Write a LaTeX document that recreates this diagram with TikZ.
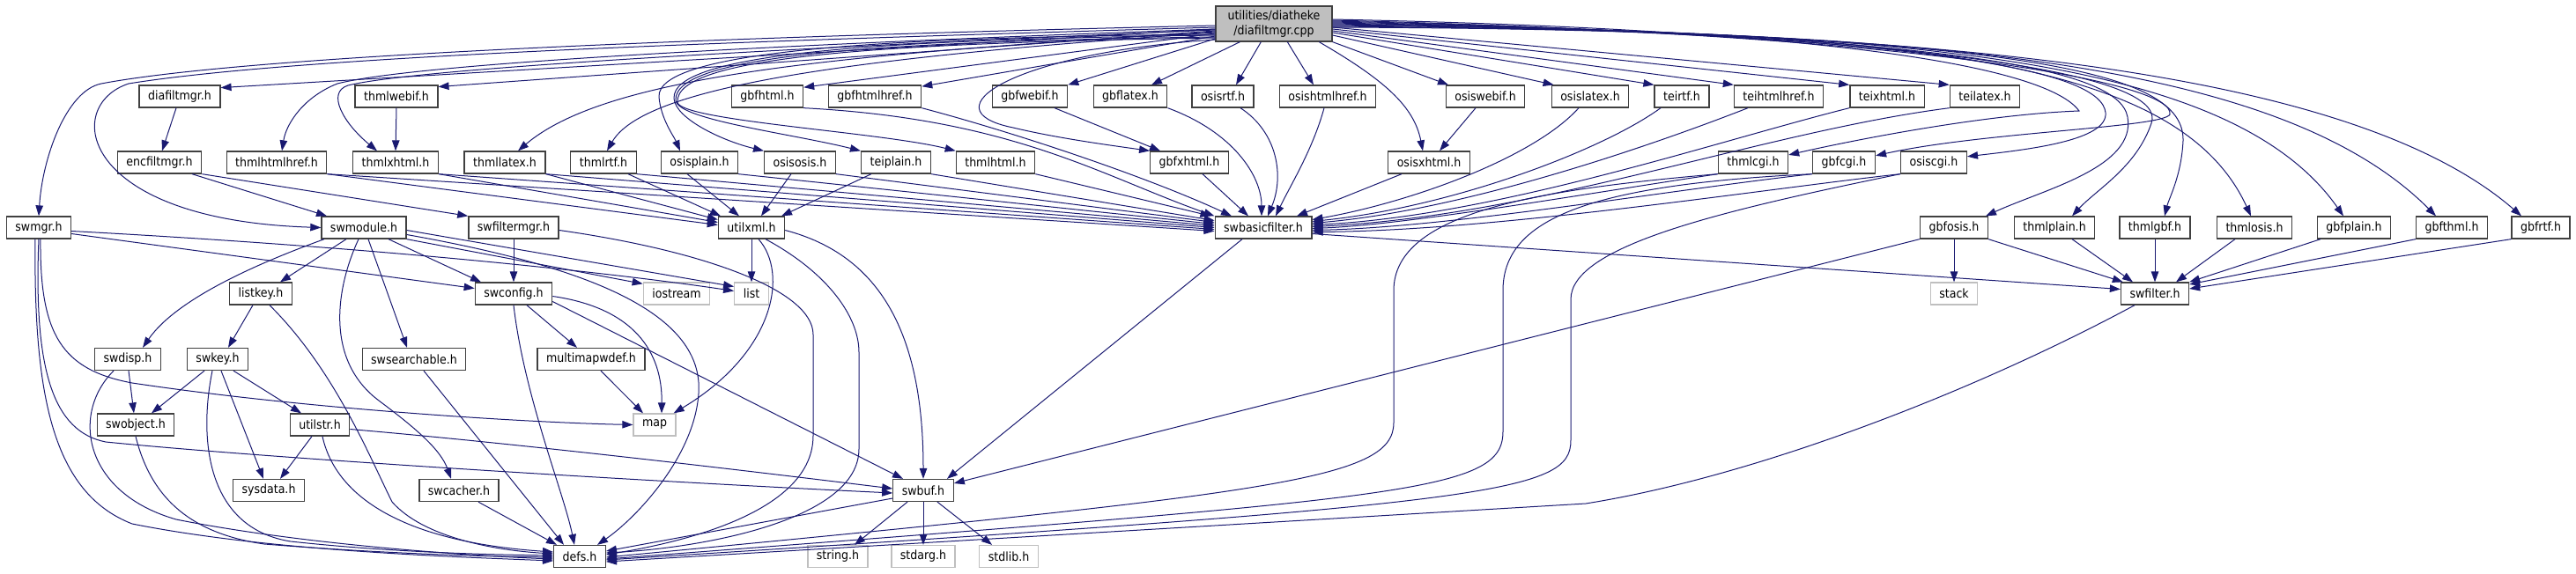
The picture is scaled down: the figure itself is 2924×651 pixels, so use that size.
\documentclass[tikz,border=0pt]{standalone}
\usepackage{fontspec}
\newfontfamily\dxfont{DejaVu Sans}[FakeStretch=0.9]
\usetikzlibrary{arrows.meta}
\definecolor{edgeblue}{RGB}{25,25,112}
\definecolor{grey25}{RGB}{64,64,64}
\definecolor{grey75}{RGB}{191,191,191}
\tikzset{box/.style={rectangle, draw=grey25, fill=white, line width=1.3pt, minimum height=25pt, inner xsep=10pt, inner ysep=0pt, font=\fontsize{14}{17}\dxfont},
sysbox/.style={box, draw=grey75},
root/.style={box, fill=grey75, align=center, minimum height=40pt, minimum width=132pt, inner ysep=1pt},
arrowout/.style={-{Triangle[length=12pt,width=8.5pt]}, draw=edgeblue, line width=1pt}}
\begin{document}
\begin{tikzpicture}[x=1pt, y=1pt]
\useasboundingbox (0,0) rectangle (2924,-651);

\node(main) at (1446,-27) [root] {utilities/diatheke\\/diafiltmgr.cpp};

\node(diafmgr) at (204,-109.5) [box] {diafiltmgr.h};
\node(thmlwebif) at (450,-109.5) [box] {thmlwebif.h};
\node(gbfhtml) at (871,-109.5) [box] {gbfhtml.h};
\node(gbfhtmlhref) at (993,-109.5) [box] {gbfhtmlhref.h};
\node(gbfwebif) at (1169,-109.5) [box] {gbfwebif.h};
\node(gbflatex) at (1283,-109.5) [box] {gbflatex.h};
\node(osisrtf) at (1388,-109.5) [box] {osisrtf.h};
\node(osishtmlhref) at (1507,-109.5) [box] {osishtmlhref.h};
\node(osiswebif) at (1686,-109.5) [box] {osiswebif.h};
\node(osislatex) at (1805,-109.5) [box] {osislatex.h};
\node(teirtf) at (1909,-109.5) [box] {teirtf.h};
\node(teihtmlhref) at (2019,-109.5) [box] {teihtmlhref.h};
\node(teixhtml) at (2142,-109.5) [box] {teixhtml.h};
\node(teilatex) at (2253,-109.5) [box] {teilatex.h};

\node(encfmgr) at (181,-184.5) [box] {encfiltmgr.h};
\node(thmlhtmlhref) at (314,-184.5) [box] {thmlhtmlhref.h};
\node(thmlxhtml) at (449,-184.5) [box] {thmlxhtml.h};
\node(thmllatex) at (573,-184.5) [box] {thmllatex.h};
\node(thmlrtf) at (685,-184.5) [box] {thmlrtf.h};
\node(osisplain) at (794,-184.5) [box] {osisplain.h};
\node(osisosis) at (908,-184.5) [box] {osisosis.h};
\node(teiplain) at (1017,-184.5) [box] {teiplain.h};
\node(thmlhtml) at (1130,-184.5) [box] {thmlhtml.h};
\node(gbfxhtml) at (1350,-184.5) [box] {gbfxhtml.h};
\node(osisxhtml) at (1622,-184.5) [box] {osisxhtml.h};
\node(thmlcgi) at (1990,-184.5) [box] {thmlcgi.h};
\node(gbfcgi) at (2093,-184.5) [box] {gbfcgi.h};
\node(osiscgi) at (2195,-184.5) [box] {osiscgi.h};

\node(swmgr) at (44,-258.5) [box] {swmgr.h};
\node(swmodule) at (413,-258.5) [box] {swmodule.h};
\node(swfmgr) at (583,-258.5) [box] {swfiltermgr.h};
\node(utilxml) at (853,-258.5) [box] {utilxml.h};
\node(swbasic) at (1434,-258.5) [box] {swbasicfilter.h};
\node(gbfosis) at (2218,-258.5) [box] {gbfosis.h};
\node(thmlplain) at (2332,-258.5) [box] {thmlplain.h};
\node(thmlgbf) at (2446,-258.5) [box] {thmlgbf.h};
\node(thmlosis) at (2559,-258.5) [box] {thmlosis.h};
\node(gbfplain) at (2672,-258.5) [box] {gbfplain.h};
\node(gbfthml) at (2783,-258.5) [box] {gbfthml.h};
\node(gbfrtf) at (2884,-258.5) [box] {gbfrtf.h};

\node(listkey) at (296,-333.5) [box] {listkey.h};
\node(swconfig) at (583,-333.5) [box] {swconfig.h};
\node(iostream) at (768,-333.5) [sysbox] {iostream};
\node(list) at (853,-333.5) [sysbox] {list};
\node(stack) at (2218,-333.5) [sysbox] {stack};
\node(swfilter) at (2446,-333.5) [box] {swfilter.h};

\node(swdisp) at (145,-408) [box] {swdisp.h};
\node(swkey) at (247,-408) [box] {swkey.h};
\node(swsearch) at (470,-408) [box] {swsearchable.h};
\node(multimap) at (671,-408) [box] {multimapwdef.h};

\node(swobject) at (154,-482.5) [box] {swobject.h};
\node(utilstr) at (363,-482.5) [box] {utilstr.h};
\node(map) at (743,-482.5) [sysbox] {map};

\node(sysdata) at (305,-557) [box] {sysdata.h};
\node(swcacher) at (521,-557) [box] {swcacher.h};
\node(swbuf) at (1048,-557) [box] {swbuf.h};

\node(defs) at (658,-632) [box] {defs.h};
\node(string) at (951,-632) [sysbox] {string.h};
\node(stdarg) at (1048,-632) [sysbox] {stdarg.h};
\node(stdlib) at (1145,-632) [sysbox] {stdlib.h};

% main file, left side
\draw[arrowout] ([yshift=-2pt]main.west) .. controls (900,-40) and (300,-60) .. (115,-95) .. controls (75,-103) and (48,-180) .. (swmgr.north);
\draw[arrowout] ([yshift=-4pt]main.west) .. controls (900,-45) and (350,-62) .. (146,-95) .. controls (70,-120) and (90,-250) .. (swmodule.west);
\draw[arrowout] ([yshift=-6pt]main.west) -- (diafmgr.12);
\draw[arrowout] ([yshift=-6pt]main.west) .. controls (950,-48) and (480,-70) .. (383,-95) .. controls (345,-110) and (325,-140) .. ([xshift=6pt]thmlhtmlhref.north);
\draw[arrowout] ([yshift=-7pt]main.west) .. controls (950,-52) and (480,-76) .. (395,-97) .. controls (370,-105) and (390,-140) .. ([xshift=-21pt]thmlxhtml.north);
\draw[arrowout] ([yshift=-8pt]main.west) -- (thmlwebif.13);
\draw[arrowout] ([yshift=-9pt]main.west) .. controls (950,-62) and (690,-85) .. ([xshift=15pt]thmllatex.north);
\draw[arrowout] ([yshift=-10pt]main.west) .. controls (950,-66) and (730,-100) .. ([xshift=4pt]thmlrtf.north);
\draw[arrowout] ([yshift=-11pt]main.west) -- (gbfhtml.14);
\draw[arrowout] ([yshift=-12pt]main.west) .. controls (1000,-42) and (745,-58) .. (748,-110) .. controls (750,-135) and (765,-155) .. ([xshift=-22pt]osisplain.north);
\draw[arrowout] ([yshift=-13pt]main.west) .. controls (1000,-45) and (762,-60) .. (765,-112) .. controls (767,-135) and (820,-160) .. (osisosis.north west);
\draw[arrowout] ([yshift=-14pt]main.west) -- (gbfhtmlhref.12);
\draw[arrowout] ([yshift=-15pt]main.west) .. controls (1000,-47) and (764,-62) .. (767,-114) .. controls (769,-136) and (900,-152) .. (teiplain.north west);
\draw[arrowout] ([yshift=-16pt]main.west) .. controls (1000,-49) and (766,-64) .. (769,-116) .. controls (771,-137) and (1000,-150) .. (thmlhtml.north west);
\draw[arrowout] ([yshift=-17pt]main.west) -- (gbfwebif.north east);
\draw[arrowout] ([yshift=-18pt]main.west) .. controls (1150,-60) and (1050,-125) .. (1150,-145) .. controls (1200,-157) and (1260,-165) .. (gbfxhtml.north west);

% main file, bottom and right side
\draw[arrowout] ([xshift=28pt]main.south west) -- ([xshift=24pt]gbflatex.north);
\draw[arrowout] ([xshift=52pt]main.south west) -- ([xshift=15pt]osisrtf.north);
\draw[arrowout] ([xshift=82pt]main.south west) -- ([xshift=-16pt]osishtmlhref.north);
\draw[arrowout] ([xshift=118pt]main.south west) .. controls (1570,-90) and (1605,-120) .. ([xshift=-7pt]osisxhtml.north);
\draw[arrowout] (main.south east) -- ([xshift=-42pt]osiswebif.north);
\draw[arrowout] ([yshift=-13pt]main.east) -- ([xshift=3pt]osislatex.north west);
\draw[arrowout] ([yshift=-10pt]main.east) -- (teirtf.north west);
\draw[arrowout] ([yshift=-8pt]main.east) -- (teihtmlhref.north west);
\draw[arrowout] ([yshift=-6pt]main.east) -- (teixhtml.north west);
\draw[arrowout] ([yshift=-4pt]main.east) -- (teilatex.north west);
\draw[arrowout] ([yshift=5pt]main.east) .. controls (2150,-35) and (2330,-85) .. (2360,-126) .. controls (2250,-130) and (2100,-160) .. (thmlcgi.12);
\draw[arrowout] ([yshift=4pt]main.east) .. controls (2200,-40) and (2470,-95) .. (2463,-130) .. controls (2455,-145) and (2250,-150) .. (gbfcgi.12);
\draw[arrowout] ([yshift=3pt]main.east) .. controls (2200,-40) and (2385,-80) .. (2390,-128) .. controls (2393,-160) and (2300,-170) .. (osiscgi.10);
\draw[arrowout] ([yshift=2pt]main.east) .. controls (2200,-40) and (2405,-75) .. (2415,-133) .. controls (2425,-190) and (2320,-215) .. ([xshift=36pt]gbfosis.north);
\draw[arrowout] ([yshift=1pt]main.east) .. controls (2250,-40) and (2460,-90) .. (2442,-140) .. controls (2425,-190) and (2380,-215) .. ([xshift=20pt]thmlplain.north);
\draw[arrowout] (main.east) .. controls (2300,-40) and (2480,-80) .. (2478,-160) .. controls (2476,-200) and (2462,-225) .. ([xshift=11pt]thmlgbf.north);
\draw[arrowout] ([yshift=-1pt]main.east) .. controls (2150,-35) and (2470,-60) .. ([xshift=-4pt]thmlosis.north);
\draw[arrowout] ([yshift=-2pt]main.east) .. controls (2150,-35) and (2530,-60) .. ([xshift=-12pt]gbfplain.north);
\draw[arrowout] ([yshift=-3pt]main.east) .. controls (2150,-35) and (2580,-60) .. ([xshift=-18pt]gbfthml.north);
\draw[arrowout] ([yshift=-4pt]main.east) .. controls (2150,-33) and (2660,-70) .. ([xshift=-22pt]gbfrtf.north);

% first row
\draw[arrowout] ([xshift=-4pt]diafmgr.south) -- ([xshift=3pt]encfmgr.north);
\draw[arrowout] (thmlwebif.south) -- (thmlxhtml.north);
\draw[arrowout] ([xshift=28pt]gbfwebif.south) -- ([xshift=-33pt]gbfxhtml.north);
\draw[arrowout] ([xshift=-11pt]osiswebif.south) -- ([xshift=12pt]osisxhtml.north);
\draw[arrowout] (gbfhtml.south east) .. controls (1150,-135) and (1250,-200) .. (swbasic.north west);
\draw[arrowout] (gbfhtmlhref.south east) .. controls (1150,-150) and (1300,-200) .. ([xshift=-36pt]swbasic.north);
\draw[arrowout] (gbflatex.south east) .. controls (1400,-150) and (1432,-200) .. ([xshift=-2pt]swbasic.north);
\draw[arrowout] ([xshift=20pt]osisrtf.south) .. controls (1450,-150) and (1458,-200) .. ([xshift=5pt]swbasic.north);
\draw[arrowout] ([xshift=-4pt]osishtmlhref.south) .. controls (1490,-170) and (1465,-210) .. ([xshift=14pt]swbasic.north);
\draw[arrowout] ([xshift=-13pt]osislatex.south) .. controls (1740,-180) and (1600,-230) .. ([yshift=9pt]swbasic.east);
\draw[arrowout] ([xshift=-24pt]teirtf.south) .. controls (1820,-170) and (1650,-235) .. ([yshift=7pt]swbasic.east);
\draw[arrowout] ([xshift=-35pt]teihtmlhref.south) .. controls (1850,-175) and (1650,-240) .. ([yshift=5pt]swbasic.east);
\draw[arrowout] (teixhtml.south west) .. controls (1950,-160) and (1700,-245) .. ([yshift=3pt]swbasic.east);
\draw[arrowout] (teilatex.south west) .. controls (2000,-150) and (1750,-245) .. ([yshift=1pt]swbasic.east);

% second row
\draw[arrowout] ([xshift=37pt]encfmgr.south) -- ([xshift=-42pt]swmodule.north);
\draw[arrowout] (encfmgr.south east) -- (swfmgr.north west);
\draw[arrowout] (thmlhtmlhref.south east) -- ([yshift=3pt]utilxml.west);
\draw[arrowout] (thmlxhtml.south east) -- ([yshift=6pt]utilxml.west);
\draw[arrowout] (thmllatex.south east) -- ([yshift=9pt]utilxml.west);
\draw[arrowout] ([xshift=28pt]thmlrtf.south) -- ([xshift=-35pt]utilxml.north);
\draw[arrowout] ([xshift=-14pt]osisplain.south) -- ([xshift=-14pt]utilxml.north);
\draw[arrowout] ([xshift=-10pt]osisosis.south) -- ([xshift=11pt]utilxml.north);
\draw[arrowout] ([xshift=-28pt]teiplain.south) -- ([xshift=34pt]utilxml.north);
\draw[arrowout] (thmlhtmlhref.south east) -- ([yshift=-4pt]swbasic.west);
\draw[arrowout] (thmlxhtml.south east) -- ([yshift=-2pt]swbasic.west);
\draw[arrowout] (thmllatex.south east) -- (swbasic.west);
\draw[arrowout] (thmlrtf.south east) -- ([yshift=2pt]swbasic.west);
\draw[arrowout] (osisplain.south east) -- ([yshift=4pt]swbasic.west);
\draw[arrowout] (osisosis.south east) -- ([yshift=6pt]swbasic.west);
\draw[arrowout] (teiplain.south east) -- ([yshift=8pt]swbasic.west);
\draw[arrowout] (thmlhtml.south east) -- ([xshift=-4pt]swbasic.north west);
\draw[arrowout] ([xshift=15pt]gbfxhtml.south) -- ([xshift=-17pt]swbasic.north);
\draw[arrowout] ([xshift=-31pt]osisxhtml.south) -- ([xshift=38pt]swbasic.north);
\draw[arrowout] (thmlcgi.south west) .. controls (1800,-220) and (1600,-255) .. ([yshift=-1pt]swbasic.east);
\draw[arrowout] (gbfcgi.south west) .. controls (1900,-215) and (1650,-258) .. ([yshift=-3pt]swbasic.east);
\draw[arrowout] (osiscgi.south west) .. controls (2000,-215) and (1700,-262) .. ([yshift=-5pt]swbasic.east);
\draw[arrowout] (thmlcgi.south west) .. controls (1750,-215) and (1582,-240) .. (1582,-330) -- (1582,-480) .. controls (1582,-545) and (1450,-560) .. ([yshift=-1pt]defs.east);
\draw[arrowout] (gbfcgi.south west) .. controls (1800,-210) and (1706,-250) .. (1706,-330) -- (1706,-490) .. controls (1706,-560) and (1600,-565) .. ([yshift=-3pt]defs.east);
\draw[arrowout] (osiscgi.south west) .. controls (1950,-240) and (1783,-280) .. (1783,-340) -- (1783,-500) .. controls (1783,-560) and (1700,-572) .. ([yshift=-4pt]defs.east);

% third row
\draw[arrowout] ([yshift=-4pt]swmgr.east) .. controls (500,-285) and (750,-318) .. ([yshift=3pt]list.west);
\draw[arrowout] ([yshift=-7pt]swmgr.east) -- ([yshift=6pt]swconfig.west);
\draw[arrowout] ([xshift=-4pt]swmgr.south) .. controls (38,-450) and (60,-560) .. (150,-595) .. controls (300,-625) and (500,-632) .. ([yshift=-5pt]defs.west);
\draw[arrowout] ([xshift=2pt]swmgr.south) .. controls (45,-380) and (70,-420) .. (150,-435) .. controls (350,-465) and (600,-480) .. (map.west);
\draw[arrowout] (swmgr.south) .. controls (38,-420) and (60,-490) .. (120,-502) .. controls (300,-520) and (700,-545) .. ([yshift=-3pt]swbuf.west);
\draw[arrowout] ([xshift=-20pt]swmodule.south) -- ([xshift=22pt]listkey.north);
\draw[arrowout] ([xshift=-45pt]swmodule.south) .. controls (290,-300) and (200,-340) .. ([xshift=17pt]swdisp.north);
\draw[arrowout] ([xshift=-6pt]swmodule.south) .. controls (380,-330) and (370,-410) .. (430,-455) .. controls (470,-485) and (500,-510) .. ([xshift=-9pt]swcacher.north);
\draw[arrowout] ([xshift=5pt]swmodule.south) -- ([xshift=-8pt]swsearch.north);
\draw[arrowout] ([xshift=28pt]swmodule.south) -- ([xshift=-37pt]swconfig.north);
\draw[arrowout] (swmodule.south east) -- ([yshift=-2pt]iostream.north west);
\draw[arrowout] ([yshift=-3pt]swmodule.east) -- ([yshift=8pt]list.west);
\draw[arrowout] ([yshift=-8pt]swmodule.east) .. controls (650,-300) and (800,-350) .. (793,-447) .. controls (788,-520) and (720,-590) .. ([xshift=20pt]defs.north);
\draw[arrowout] (swfmgr.south) -- (swconfig.north);
\draw[arrowout] ([yshift=-3pt]swfmgr.east) .. controls (800,-285) and (923,-330) .. (923,-380) -- (923,-495) .. controls (923,-580) and (780,-615) .. ([yshift=2pt]defs.east);
\draw[arrowout] (utilxml.south) -- (list.north);
\draw[arrowout] ([xshift=8pt]utilxml.south) .. controls (895,-310) and (880,-400) .. ([xshift=-3pt]map.north east);
\draw[arrowout] ([xshift=16pt]utilxml.south) .. controls (940,-310) and (975,-360) .. (975,-400) -- (975,-510) .. controls (975,-590) and (800,-622) .. ([yshift=4pt]defs.east);
\draw[arrowout] ([yshift=-3pt]utilxml.east) .. controls (1000,-290) and (1048,-380) .. (swbuf.north);
\draw[arrowout] ([xshift=-24pt]swbasic.south) -- ([xshift=27pt]swbuf.north);
\draw[arrowout] ([yshift=-7pt]swbasic.east) -- ([yshift=5pt]swfilter.west);
\draw[arrowout] (gbfosis.south) -- (stack.north);
\draw[arrowout] (gbfosis.south west) -- ([yshift=8pt]swbuf.east);
\draw[arrowout] (gbfosis.south east) -- ([xshift=3pt]swfilter.north west);
\draw[arrowout] ([xshift=20pt]thmlplain.south) -- ([xshift=-25pt]swfilter.north);
\draw[arrowout] (thmlgbf.south) -- (swfilter.north);
\draw[arrowout] ([xshift=-22pt]thmlosis.south) -- ([xshift=24pt]swfilter.north);
\draw[arrowout] ([xshift=-38pt]gbfplain.south) -- (swfilter.north east);
\draw[arrowout] (gbfthml.south west) -- (swfilter.15);
\draw[arrowout] (gbfrtf.south west) -- (swfilter.8);

% lower rows
\draw[arrowout] ([xshift=-9pt]listkey.south) -- ([xshift=12pt]swkey.north);
\draw[arrowout] ([xshift=10pt]listkey.south) .. controls (380,-420) and (420,-520) .. (445,-570) .. controls (480,-610) and (560,-625) .. ([yshift=3pt]defs.west);
\draw[arrowout] ([xshift=15pt]swconfig.south) -- ([xshift=-16pt]multimap.north);
\draw[arrowout] ([yshift=-3pt]swconfig.east) .. controls (720,-350) and (752,-400) .. ([xshift=8pt]map.north);
\draw[arrowout] ([yshift=-9pt]swconfig.east) -- ([xshift=-23pt]swbuf.north);
\draw[arrowout] (swconfig.south) .. controls (595,-450) and (640,-560) .. ([xshift=-6pt]defs.north);
\draw[arrowout] ([xshift=11pt]multimap.south) -- ([xshift=-13pt]map.north);
\draw[arrowout] ([xshift=1pt]swdisp.south) -- ([xshift=-2pt]swobject.north);
\draw[arrowout] ([xshift=-16pt]swdisp.south) .. controls (80,-470) and (95,-560) .. (200,-590) .. controls (350,-620) and (550,-632) .. ([yshift=-3pt]defs.west);
\draw[arrowout] ([xshift=-15pt]swkey.south) -- ([xshift=18pt]swobject.north);
\draw[arrowout] ([xshift=4pt]swkey.south) -- ([xshift=-6pt]sysdata.north);
\draw[arrowout] ([xshift=18pt]swkey.south) -- ([xshift=-21pt]utilstr.north);
\draw[arrowout] ([xshift=-6pt]swkey.south) .. controls (225,-500) and (235,-600) .. (330,-615) .. controls (450,-628) and (560,-630) .. ([yshift=1pt]defs.west);
\draw[arrowout] (swobject.south) .. controls (170,-560) and (210,-605) .. (300,-618) .. controls (450,-630) and (560,-632) .. ([yshift=-1pt]defs.west);
\draw[arrowout] ([xshift=-9pt]utilstr.south) -- ([xshift=13pt]sysdata.north);
\draw[arrowout] ([xshift=3pt]utilstr.south) .. controls (380,-560) and (450,-615) .. ([yshift=5pt]defs.west);
\draw[arrowout] ([yshift=-5pt]utilstr.east) .. controls (600,-505) and (850,-535) .. ([yshift=2pt]swbuf.west);
\draw[arrowout] ([xshift=11pt]swsearch.south) -- ([xshift=-18pt]defs.north);
\draw[arrowout] ([xshift=22pt]swcacher.south) -- ([xshift=-26pt]defs.north);
\draw[arrowout] ([yshift=-9pt]swbuf.west) -- ([yshift=6pt]defs.east);
\draw[arrowout] ([xshift=-18pt]swbuf.south) -- ([xshift=19pt]string.north);
\draw[arrowout] (swbuf.south) -- (stdarg.north);
\draw[arrowout] ([xshift=16pt]swbuf.south) -- ([xshift=-19pt]stdlib.north);
\draw[arrowout] ([xshift=-23pt]swfilter.south) .. controls (2250,-440) and (2000,-540) .. (1800,-572) -- ([yshift=-6pt]defs.east);

\end{tikzpicture}
\end{document}
